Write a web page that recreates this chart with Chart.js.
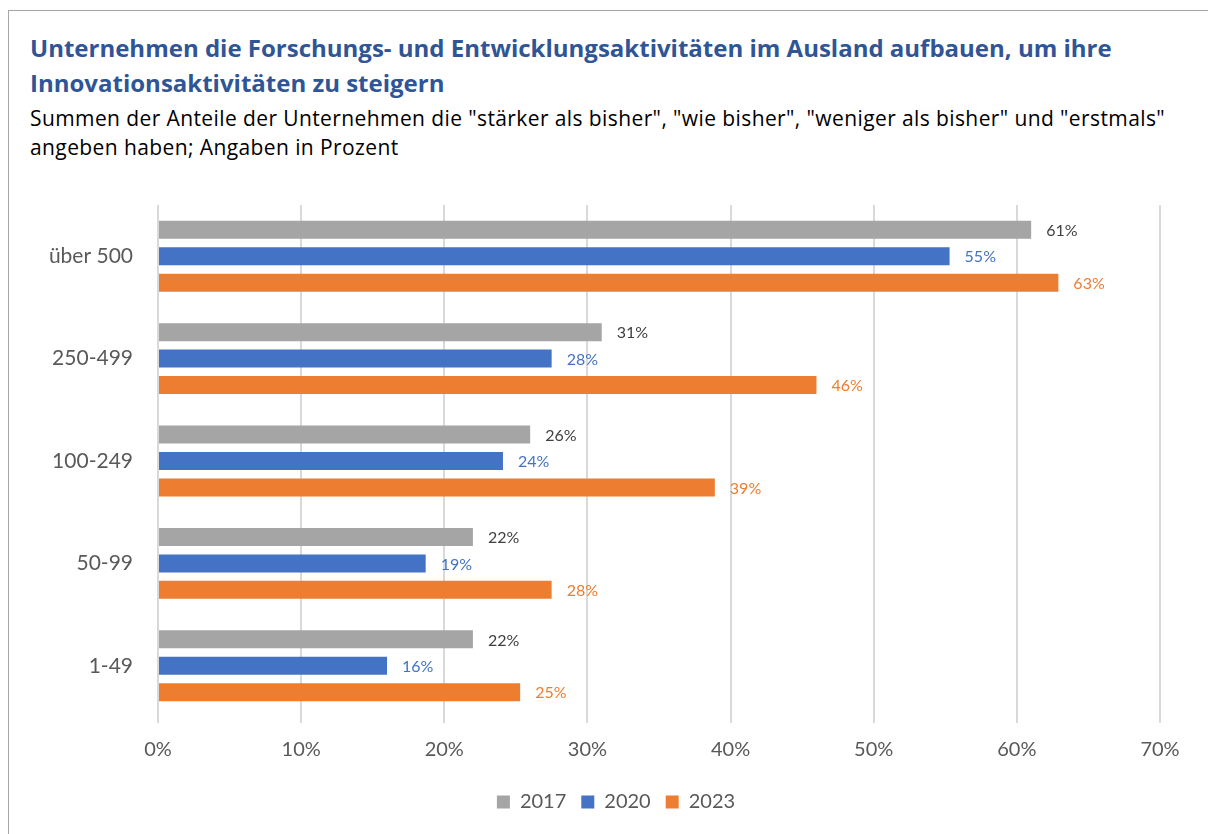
<!DOCTYPE html>
<html>
<head>
<meta charset="utf-8">
<script src="https://cdn.jsdelivr.net/npm/chart.js@4.4.0/dist/chart.umd.min.js"></script>
<style>
  body { margin: 0; background: #fff; font-family: Lato, "Open Sans", sans-serif; }
  #rahmen { position: absolute; left: 8px; top: 10px; width: 1220px; height: 840px; border: 1px solid #a6a6a6; box-sizing: border-box; }
  #titel { position: absolute; left: 30px; top: 30px; font-family: "Open Sans", sans-serif; font-size: 24px; font-weight: bold; color: #2f5597; line-height: 35px; white-space: nowrap; }
  #untertitel { position: absolute; left: 30px; top: 104px; font-family: "Open Sans", sans-serif; font-size: 21px; letter-spacing: 0.4px; color: #000; line-height: 29px; white-space: nowrap; }
  #box { position: absolute; left: 0; top: 190px; width: 1208px; height: 644px; }
</style>
</head>
<body>
<div id="rahmen"></div>
<div id="titel">Unternehmen die Forschungs- und Entwicklungsaktivitäten im Ausland aufbauen, um ihre<br>Innovationsaktivitäten zu steigern</div>
<div id="untertitel">Summen der Anteile der Unternehmen die "stärker als bisher", "wie bisher", "weniger als bisher" und "erstmals"<br>angeben haben; Angaben in Prozent</div>
<div id="box"><canvas id="grafik"></canvas></div>
<script>
// daten
const kategorien = ["über 500", "250-499", "100-249", "50-99", "1-49"];
const werte2017 = [61, 31, 26, 22, 22];
const werte2020 = [55.3, 27.5, 24.1, 18.7, 16];
const werte2023 = [62.9, 46, 38.9, 27.5, 25.3];
const jahre = ["2017", "2020", "2023"];
const achsenTicks = [0, 10, 20, 30, 40, 50, 60, 70];

const farben = ["#a5a5a5", "#4472c4", "#ed7d31"];
const labelFarben = ["#404040", "#4472c4", "#ed7d31"];

// werte rechts neben den balken
const wertLabels = {
  id: "wertLabels",
  afterLayout(chart) {
    // legende etwas nach rechts wie im original
    chart.legend.left += 36;
    chart.legend.right += 36;
  },
  afterDatasetsDraw(chart) {
    const ctx = chart.ctx;
    ctx.save();
    ctx.font = "16px Lato, 'Open Sans', sans-serif";
    ctx.textBaseline = "middle";
    chart.data.datasets.forEach((ds, i) => {
      chart.getDatasetMeta(i).data.forEach((bar, j) => {
        ctx.fillStyle = labelFarben[i];
        ctx.fillText(Math.round(ds.data[j]) + "%", bar.x + 15, bar.y + 1);
      });
    });
    ctx.restore();
  }
};

new Chart(document.getElementById("grafik"), {
  type: "bar",
  data: {
    labels: kategorien,
    datasets: [werte2017, werte2020, werte2023].map((d, i) => ({
      label: jahre[i],
      data: d,
      backgroundColor: farben[i],
      categoryPercentage: 0.775,
      barPercentage: 0.68
    }))
  },
  options: {
    indexAxis: "y",
    responsive: true,
    maintainAspectRatio: false,
    animation: false,
    layout: { padding: { top: 15, right: 48, left: 0, bottom: 12 } },
    scales: {
      x: {
        min: 0,
        max: 70,
        afterBuildTicks(s) { s.ticks = achsenTicks.map(v => ({ value: v })); },
        grid: { color: "#d9d9d9", lineWidth: 2, tickLength: 6 },
        border: { display: false },
        ticks: { color: "#595959", padding: 15, font: { size: 20, family: "Lato, 'Open Sans', sans-serif" }, callback: v => v + "%" }
      },
      y: {
        grid: { display: false },
        border: { display: false },
        afterFit(s) { s.width = 158; s.paddingTop = 0; s.paddingBottom = 0; },
        ticks: { color: "#595959", padding: 17, font: { size: 21, family: "Lato, 'Open Sans', sans-serif" } }
      }
    },
    plugins: {
      legend: {
        position: "bottom",
        labels: { color: "#595959", boxWidth: 13, boxHeight: 13, padding: 15, font: { size: 20, family: "Lato, 'Open Sans', sans-serif" } }
      },
      tooltip: { enabled: false }
    }
  },
  plugins: [wertLabels]
});
</script>
</body>
</html>
